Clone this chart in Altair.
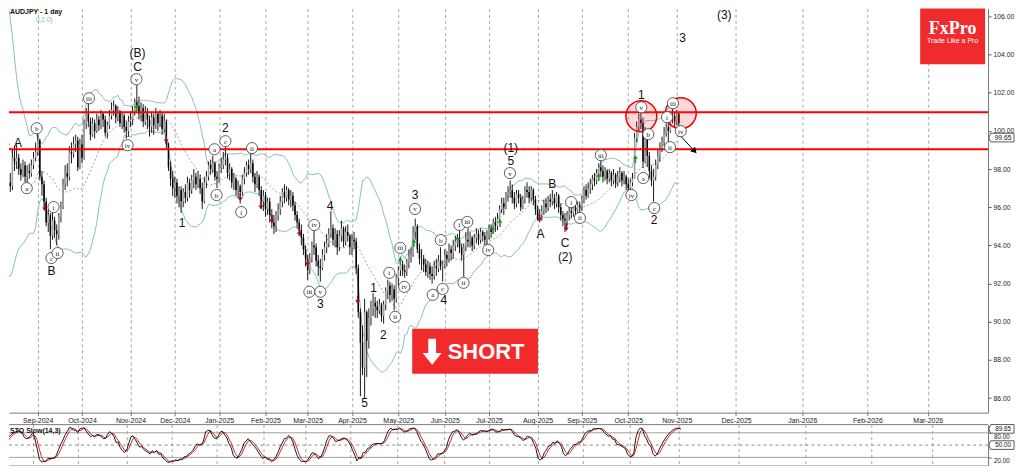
import altair as alt
import pandas as pd

# ---------------- data (AUDJPY daily) ----------------
pre_bars = 20  # off-screen warm-up bars (Jul 15 - Aug 9, 2024) for the indicators

closes = [
    106.8, 106.3, 104.9, 105.0, 105.4, 104.4, 102.9, 101.5, 100.5, 100.8,
    100.5, 100.4, 98.0, 97.5, 95.0, 93.5, 95.3, 96.4, 97.5, 96.5,
    96.9, 97.3, 97.1, 98.6, 98.4, 98.6, 98.0, 97.7, 98.2, 97.6,
    97.9, 97.8, 98.2, 98.6, 98.9, 99.5, 97.6, 97.2, 96.3, 95.2,
    95.6, 94.5, 95.3, 94.8, 94.6, 95.5, 96.0, 97.2, 97.8, 97.6,
    98.9, 98.8, 99.3, 99.5, 98.1, 99.3, 98.6, 100.4, 100.9, 100.5,
    99.8, 100.4, 100.0, 100.6, 100.3, 100.9, 100.6, 99.9, 100.3, 100.8,
    101.1, 101.3, 100.7, 101.0, 100.4, 100.8, 100.2, 100.0, 100.5, 100.6,
    101.0, 101.5, 101.3, 100.9, 101.2, 100.5, 101.0, 100.6, 100.2, 100.7,
    100.3, 100.9, 100.4, 100.8, 100.1, 100.5, 99.3, 98.1, 97.5, 97.0,
    97.3, 96.6, 96.9, 96.3, 96.8, 96.5, 97.3, 96.9, 97.4, 97.6,
    97.2, 97.5, 97.0, 96.3, 97.3, 97.6, 98.2, 98.0, 98.3, 97.6,
    97.5, 98.1, 98.2, 98.5, 98.6, 97.8, 98.0, 97.3, 97.5, 96.9,
    97.1, 96.8, 97.5, 97.8, 98.2, 98.0, 98.3, 97.6, 97.2, 97.6,
    96.9, 96.3, 96.6, 95.9, 96.3, 95.6, 95.2, 95.0, 95.6, 95.9,
    96.3, 96.8, 96.5, 96.9, 96.4, 96.6, 96.1, 95.6, 95.2, 94.8,
    94.4, 93.8, 93.3, 92.7, 93.3, 94.0, 93.9, 93.2, 92.9, 92.8,
    93.5, 93.9, 94.1, 94.6, 94.9, 94.3, 94.6, 93.9, 94.5, 94.9,
    94.2, 94.7, 94.5, 93.9, 94.3, 94.2, 92.8, 90.5, 88.9, 87.6,
    90.5, 89.0, 90.2, 90.7, 91.0, 90.8, 90.6, 90.9, 90.3, 90.9,
    91.6, 91.9, 91.4, 91.7, 91.2, 92.3, 92.7, 93.0, 92.7, 92.6,
    93.1, 93.4, 93.5, 94.7, 95.0, 93.8, 93.3, 93.3, 93.0, 92.6,
    92.9, 92.5, 92.4, 92.9, 92.8, 93.2, 92.9, 93.0, 93.5, 93.3,
    93.8, 93.6, 94.0, 94.2, 94.3, 93.9, 93.5, 93.9, 94.3, 94.2,
    94.4, 94.0, 94.4, 94.6, 94.3, 94.7, 94.5, 94.3, 94.6, 94.9,
    94.7, 95.2, 95.0, 95.4, 95.9, 96.2, 96.0, 96.6, 96.8, 96.9,
    96.5, 96.2, 96.7, 96.5, 96.0, 96.4, 96.9, 96.8, 96.5, 96.9,
    96.4, 95.9, 95.4, 95.6, 95.8, 96.2, 96.0, 96.4, 96.3, 96.5,
    96.2, 96.6, 96.0, 95.6, 95.4, 95.3, 95.6, 95.8, 95.7, 96.0,
    95.8, 96.1, 96.0, 96.4, 96.9, 96.6, 97.0, 97.2, 97.5, 97.4,
    97.8, 98.1, 97.9, 97.6, 97.9, 97.5, 97.8, 97.4, 97.7, 97.3,
    97.6, 97.8, 97.4, 97.6, 97.2, 97.0, 97.3, 97.5, 99.6, 100.2,
    100.6, 100.4, 98.4, 99.7, 98.7, 97.9, 97.4, 97.6, 98.2, 98.7,
    99.1, 99.4, 99.9, 100.2, 100.0, 100.7, 100.8, 100.5, 100.9, 100.4,
]

highs = [
    107.6, 107.0, 106.5, 105.6, 105.8, 105.5, 104.5, 103.0, 101.9, 101.3,
    101.3, 101.0, 100.7, 98.8, 97.8, 95.5, 95.8, 97.3, 97.8, 98.0,
    97.6, 97.7, 97.8, 99.0, 99.2, 99.3, 98.8, 98.3, 98.5, 98.4,
    98.2, 98.3, 98.5, 98.9, 99.4, 100.0, 99.6, 97.9, 97.4, 96.5,
    95.9, 95.7, 96.0, 95.5, 95.1, 95.7, 96.3, 97.5, 98.2, 98.3,
    99.2, 99.4, 99.7, 99.8, 99.7, 99.6, 99.8, 100.6, 101.2, 101.5,
    100.7, 100.7, 100.6, 100.9, 100.8, 101.1, 101.0, 100.8, 100.5, 101.1,
    101.5, 101.6, 101.4, 101.3, 101.1, 101.0, 100.9, 100.5, 100.8, 101.0,
    101.3, 101.7, 102.4, 101.8, 101.5, 101.4, 101.3, 101.2, 100.8, 101.0,
    100.9, 101.2, 101.0, 101.1, 101.0, 100.9, 100.6, 99.4, 98.4, 97.9,
    97.6, 97.5, 97.1, 97.1, 97.0, 97.2, 97.6, 97.5, 97.7, 98.0,
    97.8, 97.9, 97.7, 97.3, 97.6, 97.9, 98.4, 98.5, 98.7, 98.4,
    97.9, 98.3, 98.6, 98.9, 99.2, 98.8, 98.3, 98.1, 97.8, 97.6,
    97.4, 97.2, 97.7, 98.1, 98.4, 98.5, 98.8, 98.5, 97.8, 97.9,
    97.7, 97.1, 96.9, 96.8, 96.5, 96.5, 95.9, 95.6, 95.8, 96.2,
    96.6, 97.0, 97.2, 97.1, 97.0, 96.9, 96.8, 96.3, 95.8, 95.4,
    95.1, 94.6, 94.0, 93.5, 93.6, 94.2, 94.8, 94.1, 93.5, 93.3,
    93.8, 94.2, 94.6, 94.9, 95.8, 95.1, 94.9, 94.8, 94.8, 95.3,
    95.0, 95.0, 95.1, 94.6, 94.6, 94.7, 94.4, 93.0, 90.7, 89.8,
    91.2, 90.6, 90.7, 91.1, 91.5, 91.3, 91.1, 91.2, 91.0, 91.1,
    91.8, 92.2, 92.1, 92.0, 91.9, 92.5, 92.9, 93.4, 93.2, 93.0,
    93.3, 93.8, 93.9, 95.0, 95.4, 95.1, 94.1, 93.8, 93.5, 93.3,
    93.2, 93.1, 92.9, 93.2, 93.3, 93.5, 93.9, 93.2, 93.8, 93.7,
    94.1, 94.0, 94.3, 94.5, 94.6, 94.8, 94.1, 94.1, 94.7, 94.9,
    94.7, 94.5, 94.6, 94.9, 94.8, 94.9, 94.8, 94.7, 94.8, 95.1,
    95.1, 95.4, 95.5, 95.7, 96.1, 96.5, 96.5, 96.8, 97.1, 97.4,
    97.2, 96.8, 96.9, 96.9, 96.7, 96.6, 97.1, 97.3, 97.1, 97.1,
    97.0, 96.6, 96.1, 95.9, 96.1, 96.4, 96.5, 96.6, 96.7, 96.9,
    96.7, 96.8, 96.7, 96.2, 95.8, 95.7, 95.8, 96.0, 96.1, 96.2,
    96.1, 96.3, 96.3, 96.6, 97.1, 97.2, 97.3, 97.5, 97.7, 97.8,
    98.0, 98.3, 98.5, 98.2, 98.1, 98.0, 98.0, 97.9, 98.0, 97.8,
    97.9, 98.1, 97.9, 97.9, 97.7, 97.5, 97.5, 97.8, 99.9, 100.5,
    100.9, 100.95, 100.7, 100.2, 99.9, 98.9, 98.2, 98.0, 98.5, 99.0,
    99.4, 99.7, 100.2, 100.4, 100.5, 101.0, 101.15, 101.0, 101.1, 101.0,
]

lows = [
    106.0, 106.0, 104.6, 104.3, 104.6, 104.1, 102.6, 101.0, 99.2, 100.0,
    100.1, 99.6, 97.6, 96.5, 94.8, 90.2, 93.3, 94.9, 95.3, 96.1,
    96.5, 96.6, 96.8, 96.9, 97.9, 98.0, 97.7, 97.4, 97.6, 97.3,
    97.2, 97.5, 97.6, 98.0, 98.4, 98.7, 97.4, 96.6, 96.0, 95.0,
    94.7, 93.8, 94.3, 94.4, 94.0, 94.3, 95.2, 95.9, 96.9, 97.1,
    97.4, 98.3, 98.6, 98.9, 97.9, 98.0, 98.3, 98.5, 100.1, 100.2,
    99.5, 99.7, 99.6, 99.9, 100.0, 100.1, 100.2, 99.7, 99.6, 100.1,
    100.6, 100.8, 100.4, 100.5, 100.2, 100.1, 99.9, 99.6, 99.7, 100.2,
    100.3, 100.8, 101.0, 100.6, 100.5, 100.2, 100.3, 100.1, 99.7, 99.9,
    99.8, 100.1, 100.0, 100.2, 99.8, 99.9, 99.0, 97.9, 97.1, 96.6,
    96.5, 96.2, 96.0, 95.7, 96.0, 96.2, 96.3, 96.5, 96.7, 97.0,
    96.9, 97.0, 96.7, 95.9, 96.2, 97.0, 97.4, 97.7, 97.8, 97.4,
    97.0, 97.3, 97.8, 98.0, 98.2, 97.5, 97.4, 97.0, 96.9, 96.6,
    96.5, 96.2, 96.6, 97.2, 97.6, 97.7, 97.8, 97.3, 96.8, 97.0,
    96.6, 95.9, 95.8, 95.5, 95.6, 95.2, 94.9, 94.6, 94.7, 95.3,
    95.6, 96.0, 96.2, 96.3, 96.1, 96.0, 95.8, 95.3, 94.9, 94.5,
    94.0, 93.5, 92.9, 92.2, 92.5, 93.1, 93.5, 92.9, 92.4, 92.1,
    92.7, 93.2, 93.6, 93.9, 94.4, 94.0, 93.9, 93.5, 93.7, 94.2,
    93.9, 94.0, 94.2, 93.5, 93.5, 93.8, 92.5, 90.2, 86.1, 87.2,
    86.0, 87.1, 88.6, 89.8, 90.3, 90.2, 90.2, 90.4, 90.0, 89.9,
    90.6, 91.2, 91.0, 91.1, 90.6, 91.0, 91.9, 92.4, 92.4, 92.3,
    92.4, 92.8, 93.1, 93.4, 94.3, 93.6, 93.0, 92.7, 92.6, 92.4,
    92.3, 92.2, 92.0, 92.2, 92.4, 92.6, 92.7, 92.1, 92.8, 92.9,
    93.1, 93.2, 93.3, 93.7, 93.9, 93.6, 93.2, 92.35, 93.7, 93.9,
    93.9, 93.7, 93.8, 94.1, 94.0, 94.1, 94.2, 94.0, 94.05, 94.3,
    94.4, 94.6, 94.7, 94.8, 95.2, 95.7, 95.6, 95.9, 96.3, 96.5,
    96.2, 95.9, 96.0, 96.2, 95.8, 95.9, 96.2, 96.5, 96.2, 96.3,
    96.1, 95.6, 95.3, 95.2, 95.3, 95.6, 95.7, 95.8, 96.0, 96.1,
    95.9, 96.0, 95.7, 95.3, 95.0, 94.7, 95.0, 95.3, 95.4, 95.5,
    95.5, 95.6, 95.6, 95.8, 96.2, 96.4, 96.5, 96.7, 96.9, 97.1,
    97.2, 97.5, 97.6, 97.3, 97.4, 97.2, 97.3, 97.1, 97.2, 97.0,
    97.1, 97.3, 97.1, 97.2, 96.9, 96.8, 96.9, 97.1, 97.6, 99.4,
    100.0, 100.1, 98.05, 98.3, 98.1, 97.5, 97.1, 96.3, 97.4, 98.0,
    98.4, 98.9, 99.2, 99.7, 99.4, 99.9, 100.4, 100.2, 100.3, 100.1,
]

month_names = ["Sep-2024", "Oct-2024", "Nov-2024", "Dec-2024", "Jan-2025", "Feb-2025",
               "Mar-2025", "Apr-2025", "May-2025", "Jun-2025", "Jul-2025", "Aug-2025",
               "Sep-2025", "Oct-2025", "Nov-2025", "Dec-2025", "Jan-2026", "Feb-2026",
               "Mar-2026"]
month_bars = [15, 36, 59, 80, 101, 123, 143, 164, 186, 208, 229, 252, 273, 295, 318,
              346.1, 377.5, 408.4, 437.0]

price_ticks = [86, 88, 90, 92, 94, 96, 98, 100, 102, 104, 106]
level_prices = [100.98, 99.04]
last_price = [99.65]
sto_box_vals = [89.65, 50.00]
sto_levels = [80, 20]
sto_mid_level = [50]
sto_top = [100]

circle_txt = ["a", "b", "i", "c", "ii", "iii", "iv", "v", "a", "b", "c", "i", "ii",
              "iii", "iv", "v", "i", "ii", "iii", "iv", "v", "a", "b", "c", "i", "iii",
              "ii", "iv", "v", "i", "ii", "iii", "iv", "v", "a", "b", "c", "i", "ii",
              "iii", "iv"]
circle_bar = [9.8, 14.5, 22.5, 21.5, 24.4, 39.3, 57.6, 61.8, 98.8, 99.8, 104.0, 111.5,
              116.6, 143.8, 146.1, 149.0, 181.7, 184.5, 186.9, 188.8, 193.9, 202.3,
              206.1, 207.0, 215.0, 218.7, 216.9, 228.6, 238.9, 267.9, 272.1, 282.0,
              296.5, 301.2, 302.1, 304.5, 307.3, 313.4, 314.8, 316.2, 319.9]
circle_price = [97.00, 100.14, 96.01, 93.34, 93.60, 101.71, 99.25, 102.71, 99.04, 96.64,
                99.46, 95.75, 99.10, 91.57, 95.07, 91.57, 92.56, 90.26, 93.87, 91.83,
                95.91, 91.41, 94.28, 91.72, 95.07, 95.23, 92.04, 93.76, 97.79, 96.27,
                95.44, 98.73, 96.64, 101.24, 97.53, 99.83, 95.96, 100.72, 99.15, 101.45,
                99.99]

wave_txt = ["A", "B", "(B)", "C", "1", "2", "4", "3", "5", "1", "2", "3", "4", "5", "(1)",
            "A", "B", "C", "(2)", "1", "2", "3", "(3)"]
wave_bar = [5.6, 21.5, 62.3, 62.3, 83.4, 104.0, 153.6, 149.0, 170.0, 174.2, 178.9, 193.9,
            207.5, 239.3, 239.3, 253.4, 259.0, 265.1, 265.1, 301.2, 307.3, 320.8, 340.5]
wave_price = [99.36, 92.66, 104.06, 103.33, 95.17, 100.14, 96.06, 90.94, 85.76, 91.77,
              89.32, 96.64, 91.15, 98.42, 99.10, 94.60, 97.21, 94.13, 93.40, 101.87,
              95.33, 104.85, 106.05]

up_bar = [61.8, 186.9, 193.4, 214.1, 230.9, 234.2, 281.0, 298.4]
up_price = [101.19, 93.19, 94.13, 94.28, 94.81, 95.17, 97.58, 98.52]
down_bar = [18.3, 75.9, 111.0, 120.8, 126.0, 139.1, 142.9, 166.7, 252.9, 265.6]
down_price = [96.01, 99.57, 96.53, 96.11, 95.38, 94.70, 93.13, 91.15, 95.44, 94.96]

zone_bar = [301.2, 319.9]
zone_price = [100.77, 100.93]
arrow_bar = [318.97, 326.46]
arrow_price = [99.83, 98.94]

assert len(closes) == len(highs) == len(lows)

# ---------------- indicators: Bollinger(20, 2) and Stochastic slow(14, 3) -----
c = pd.Series(closes, dtype=float)
o = c.shift(1).fillna(c.iloc[0])
h = pd.concat([pd.Series(highs, dtype=float), o, c], axis=1).max(axis=1)
l = pd.concat([pd.Series(lows, dtype=float), o, c], axis=1).min(axis=1)
mid = c.rolling(20).mean()
sd = c.rolling(20).std(ddof=0)
ll = l.rolling(14).min()
hh = h.rolling(14).max()
k = (c - ll).rolling(3).sum() / (hh - ll).rolling(3).sum() * 100
d = k.rolling(3).mean()

df = pd.DataFrame({
    "bar": list(range(-pre_bars, len(closes) - pre_bars)),
    "open": o, "high": h, "low": l, "close": c,
    "mid": mid, "up": mid + 2 * sd, "dn": mid - 2 * sd, "k": k, "d": d,
})
df = df[df["bar"] >= 0].reset_index(drop=True)
df["bull"] = df["close"] >= df["open"]

# ---------------- scales & axes ----------------
# Plot starts at the page's 8px margin; domains begin at the value that sits
# 8px inside the reference's left/top edge.  Everything fits in 1008 x 458.
W_PLOT, H_MAIN, H_STO = 981, 405, 41
x_scale = alt.Scale(domain=[3.747, 3.747 + W_PLOT / 2.135], nice=False, zero=False)
y_scale = alt.Scale(domain=[85.236, 106.418], nice=False, zero=False)
s_scale = alt.Scale(domain=[0, 100], nice=False, zero=False)

names_js = "[" + ",".join("'" + n + "'" for n in month_names) + "]"
vals_js = "[" + ",".join(str(v) for v in month_bars) + "]"
label_expr = names_js + "[indexof(" + vals_js + ", datum.value)]"

x_axis_main = alt.Axis(values=month_bars, labelExpr=label_expr, grid=True, gridDash=[3, 3],
                       gridColor="#8f8f8f", gridWidth=0.8, ticks=True, tickSize=3,
                       tickColor="#777777", domain=True, domainColor="#7a7a7a",
                       labelFontSize=7, labelColor="#1a1a1a", labelPadding=1,
                       labelOverlap=False, labelFlush=False, title=None)
x_axis_sto = alt.Axis(values=month_bars, grid=True, gridDash=[3, 3], gridColor="#8f8f8f",
                      gridWidth=0.8, ticks=False, labels=False, domain=True,
                      domainColor="#7a7a7a", title=None)
y_axis_main = alt.Axis(orient="right", values=price_ticks, format=".2f", grid=False,
                       tickSize=3, tickColor="#555555", domainColor="#777777",
                       labelFontSize=6.8, labelColor="#1a1a1a", labelPadding=2, title=None)
y_axis_sto = alt.Axis(orient="right", values=sto_levels, grid=False, labels=False,
                      tickSize=3, tickColor="#555555", domainColor="#777777", title=None)


def mx(f):
    return alt.X(f, type="quantitative", scale=x_scale, axis=x_axis_main)


def my(f):
    return alt.Y(f, type="quantitative", scale=y_scale, axis=y_axis_main)


def sx(f):
    return alt.X(f, type="quantitative", scale=x_scale, axis=x_axis_sto)


def sy(f):
    return alt.Y(f, type="quantitative", scale=s_scale, axis=y_axis_sto)


UP_PATH = "M-0.2,1 L0.2,1 L0.2,-0.1 L0.65,-0.1 L0,-1 L-0.65,-0.1 L-0.2,-0.1 Z"
DOWN_PATH = "M-0.2,-1 L0.2,-1 L0.2,0.1 L0.65,0.1 L0,1 L-0.65,0.1 L-0.2,0.1 Z"
BIG_DOWN = "M-0.3,-1 L0.3,-1 L0.3,0.1 L0.73,0.1 L0,1 L-0.73,0.1 L-0.3,0.1 Z"
BOX_PATH = "M-1.1,0 L-0.95,-0.36 L1,-0.36 L1,0.36 L-0.95,0.36 Z"

one = pd.DataFrame({"k": [0]})
circ_df = pd.DataFrame({"t": circle_txt, "bar": circle_bar, "p": circle_price})
wave_df = pd.DataFrame({"t": wave_txt, "bar": wave_bar, "p": wave_price})
up_df = pd.DataFrame({"bar": up_bar, "p": up_price})
dn_df = pd.DataFrame({"bar": down_bar, "p": down_price})
zone_df = pd.DataFrame({"bar": zone_bar, "p": zone_price})
arrow_df = pd.DataFrame({"bar": arrow_bar, "p": arrow_price})
lvl_df = pd.DataFrame({"p": level_prices})
last_df = pd.DataFrame({"p": last_price, "t": ["%.2f" % v for v in last_price]})

TXT = "#111111"
base = alt.Chart(df)
layers = [
    base.mark_line(color="#86c0c0", strokeWidth=1, clip=True).encode(x=mx("bar"), y=my("up")),
    base.mark_line(color="#86c0c0", strokeWidth=1, clip=True).encode(x=mx("bar"), y=my("dn")),
    base.mark_line(color="#8a8a8a", strokeWidth=0.8, strokeDash=[2, 2], clip=True).encode(
        x=mx("bar"), y=my("mid")),
    base.mark_rule(color="#1a1a1a", strokeWidth=1, clip=True).encode(
        x=mx("bar"), y=my("low"), y2=alt.Y2("high")),
    base.mark_bar(width=1.5, clip=True).encode(
        x=mx("bar"), y=my("open"), y2=alt.Y2("close"),
        color=alt.condition("datum.bull", alt.value("#a3a3a3"), alt.value("#000000"))),
    alt.Chart(lvl_df).mark_rule(color="#ff0000", strokeWidth=2).encode(y=my("p")),
    alt.Chart(zone_df).mark_point(shape="circle", size=961, filled=True, fill="#ff2a2a",
                                  fillOpacity=0.18, stroke="#ee0000", strokeWidth=1.5,
                                  strokeOpacity=1, opacity=1).encode(x=mx("bar"), y=my("p")),
    alt.Chart(arrow_df).mark_line(color="#000000", strokeWidth=1).encode(x=mx("bar"), y=my("p")),
    alt.Chart(arrow_df.iloc[[1]]).mark_point(shape="triangle-up", angle=138, size=45,
                                             filled=True, color="#000000", opacity=1).encode(
        x=mx("bar"), y=my("p")),
    alt.Chart(arrow_df.iloc[[0]]).mark_point(shape="triangle-up", angle=318, size=18,
                                             filled=True, color="#000000", opacity=1).encode(
        x=mx("bar"), y=my("p")),
    alt.Chart(up_df).mark_point(shape=UP_PATH, size=60, filled=True, color="#1f9a1f",
                                opacity=1).encode(x=mx("bar"), y=my("p")),
    alt.Chart(dn_df).mark_point(shape=DOWN_PATH, size=60, filled=True, color="#a00f0f",
                                opacity=1).encode(x=mx("bar"), y=my("p")),
    alt.Chart(circ_df).mark_point(shape="circle", size=125, filled=True, fill="#ffffff",
                                  stroke="#3a3a3a", strokeWidth=0.8, opacity=1).encode(
        x=mx("bar"), y=my("p")),
    alt.Chart(circ_df).mark_text(font="Liberation Serif", fontSize=7, color=TXT,
                                 baseline="middle", dy=0.5).encode(x=mx("bar"), y=my("p"), text="t"),
    alt.Chart(wave_df).mark_text(fontSize=12, color=TXT, baseline="middle").encode(
        x=mx("bar"), y=my("p"), text="t"),
    alt.Chart(last_df).mark_point(shape=BOX_PATH, size=576, filled=True, fill="#ffffff",
                                  stroke="#333333", strokeWidth=0.8, opacity=1).encode(
        x=alt.value(995), y=my("p")),
    alt.Chart(last_df).mark_text(fontSize=6.8, color=TXT, baseline="middle").encode(
        x=alt.value(996), y=my("p"), text="t"),
    # FxPro logo
    alt.Chart(one).mark_rect(color="#ef2b2d").encode(
        x=alt.value(913), x2=alt.value(978), y=alt.value(0), y2=alt.value(56)),
    alt.Chart(one).mark_text(text="FxPro", font="Liberation Serif", fontSize=18,
                             fontWeight="bold", color="#ffffff", baseline="middle").encode(
        x=alt.value(945.5), y=alt.value(21)),
    alt.Chart(one).mark_text(text="Trade Like a Pro", fontSize=7, color="#ffffff",
                             baseline="middle").encode(x=alt.value(945.5), y=alt.value(33)),
    # SHORT button
    alt.Chart(one).mark_rect(color="#f12b2b").encode(
        x=alt.value(404), x2=alt.value(530), y=alt.value(321), y2=alt.value(366)),
    alt.Chart(one).mark_point(shape=BIG_DOWN, size=676, filled=True, color="#ffffff",
                              opacity=1).encode(x=alt.value(424), y=alt.value(344)),
    alt.Chart(one).mark_text(text="SHORT", fontSize=22, fontWeight="bold", color="#ffffff",
                             baseline="middle").encode(x=alt.value(478), y=alt.value(344)),
    # chart titles
    alt.Chart(one).mark_text(text="AUDJPY - 1 day", fontSize=7, fontWeight="bold",
                             color=TXT, align="left", baseline="middle").encode(
        x=alt.value(1), y=alt.value(4)),
    alt.Chart(one).mark_text(text="0,2.0)", fontSize=6.5, color="#7fb8b8", align="left",
                             baseline="middle").encode(x=alt.value(27), y=alt.value(12)),
]
main = alt.layer(*layers).properties(width=W_PLOT, height=H_MAIN)

sbase = alt.Chart(df)
sto_box_df = pd.DataFrame({"v": sto_box_vals, "t": ["%.2f" % v for v in sto_box_vals]})
sto_lab_df = pd.DataFrame({"v": sto_levels, "t": ["%.2f" % v for v in sto_levels]})
sto_layers = [
    alt.Chart(pd.DataFrame({"v": sto_top})).mark_rule(color="#7a7a7a", strokeWidth=1).encode(y=sy("v")),
    alt.Chart(pd.DataFrame({"v": sto_levels})).mark_rule(color="#a0a0a0", strokeWidth=1).encode(y=sy("v")),
    alt.Chart(pd.DataFrame({"v": sto_mid_level})).mark_rule(color="#8a8a8a", strokeWidth=1,
                                                              strokeDash=[3, 3]).encode(y=sy("v")),
    sbase.mark_line(color="#d01010", strokeWidth=0.9, clip=True).encode(x=sx("bar"), y=sy("d")),
    sbase.mark_line(color="#000000", strokeWidth=0.9, clip=True).encode(x=sx("bar"), y=sy("k")),
    # level labels, nudged below their lines so the value boxes do not cover them
    alt.Chart(sto_lab_df).mark_text(fontSize=6.3, color=TXT, align="left", baseline="top",
                                    dy=1).encode(x=alt.value(987), y=sy("v"), text="t"),
    alt.Chart(sto_box_df).mark_point(shape=BOX_PATH, size=576, filled=True, fill="#ffffff",
                                     stroke="#333333", strokeWidth=0.8, opacity=1).encode(
        x=alt.value(995), y=sy("v")),
    alt.Chart(sto_box_df).mark_text(fontSize=6.3, color=TXT, baseline="middle").encode(
        x=alt.value(996), y=sy("v"), text="t"),
    alt.Chart(one).mark_text(text="STO Slow(14,3)", fontSize=7, fontWeight="bold",
                             color=TXT, align="left", baseline="middle").encode(
        x=alt.value(1), y=alt.value(6)),
]
sto = alt.layer(*sto_layers).properties(width=W_PLOT, height=H_STO)

chart = alt.vconcat(main, sto, spacing=12, bounds="flush").properties(
    padding=0
).configure(font="Liberation Sans").configure_view(strokeWidth=0)

chart.save("out.html", embed_options={"renderer": "svg", "actions": False})
